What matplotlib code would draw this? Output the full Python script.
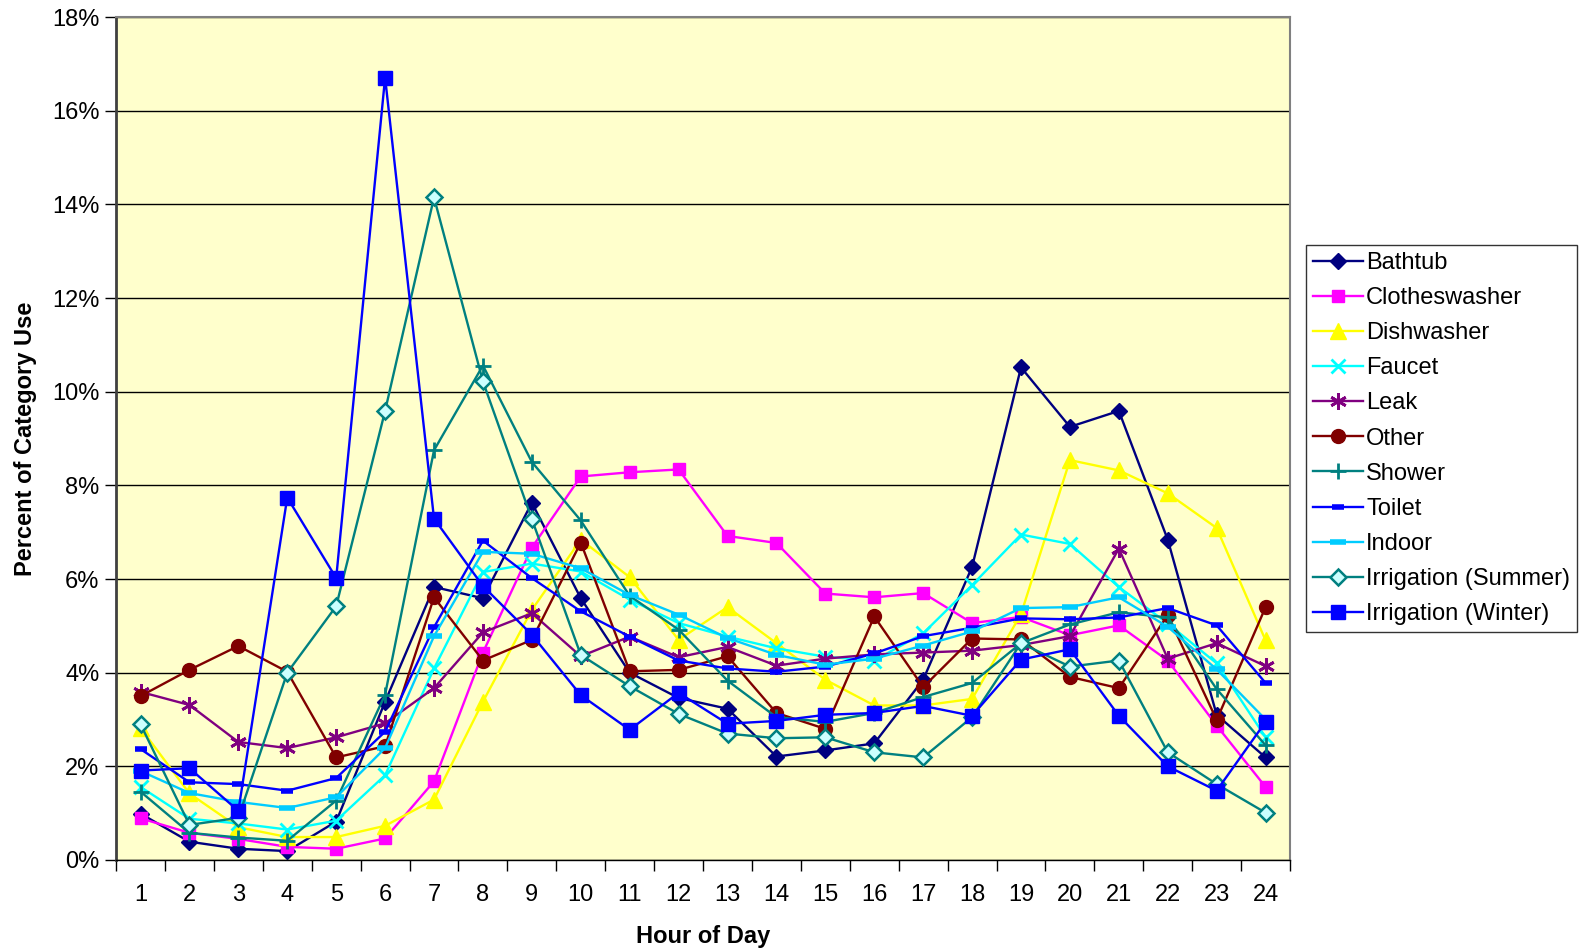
import matplotlib
matplotlib.use('Agg')
import matplotlib.pyplot as plt
from matplotlib.ticker import PercentFormatter, FixedLocator

plt.rcParams['font.family'] = ['Liberation Sans', 'DejaVu Sans']

# hourly share of each end use (percent of category use)
hours = list(range(1, 25))
bathtub = [0.99, 0.39, 0.24, 0.19, 0.82, 3.38, 5.83, 5.59, 7.63, 5.59, 4.0, 3.46,
           3.23, 2.21, 2.34, 2.49, 3.85, 6.26, 10.52, 9.25, 9.59, 6.84, 3.1, 2.19]
clotheswasher = [0.89, 0.58, 0.45, 0.28, 0.24, 0.46, 1.68, 4.43, 6.67, 8.19, 8.28, 8.34,
                 6.92, 6.77, 5.69, 5.61, 5.7, 5.06, 5.19, 4.8, 5.01, 4.26, 2.87, 1.56]
dishwasher = [2.82, 1.42, 0.7, 0.49, 0.49, 0.73, 1.29, 3.38, 5.34, 6.84, 6.04, 4.7,
              5.4, 4.63, 3.85, 3.3, 3.3, 3.44, 5.25, 8.54, 8.32, 7.83, 7.09, 4.69]
faucet = [1.56, 0.88, 0.78, 0.65, 0.84, 1.81, 4.09, 6.15, 6.33, 6.16, 5.56, 5.06,
          4.77, 4.52, 4.34, 4.26, 4.84, 5.87, 6.95, 6.75, 5.83, 5.05, 4.2, 2.62]
leak = [3.59, 3.31, 2.52, 2.39, 2.62, 2.92, 3.67, 4.86, 5.27, 4.35, 4.77, 4.33,
        4.55, 4.15, 4.3, 4.39, 4.43, 4.47, 4.59, 4.78, 6.65, 4.3, 4.63, 4.14]
other = [3.5, 4.06, 4.57, 4.02, 2.19, 2.43, 5.61, 4.26, 4.7, 6.78, 4.03, 4.06,
         4.35, 3.14, 2.8, 5.2, 3.69, 4.73, 4.71, 3.91, 3.67, 5.23, 2.99, 5.4]
shower = [1.46, 0.58, 0.48, 0.41, 1.27, 3.53, 8.75, 10.56, 8.5, 7.25, 5.64, 4.92,
          3.83, 3.05, 2.95, 3.14, 3.48, 3.78, 4.63, 5.03, 5.29, 5.18, 3.65, 2.45]
toilet = [2.37, 1.66, 1.62, 1.48, 1.75, 2.74, 4.97, 6.82, 6.02, 5.31, 4.77, 4.26,
          4.09, 4.02, 4.13, 4.41, 4.78, 4.96, 5.16, 5.14, 5.18, 5.38, 5.01, 3.78]
indoor = [1.9, 1.43, 1.24, 1.11, 1.34, 2.39, 4.78, 6.58, 6.54, 6.23, 5.66, 5.24,
          4.74, 4.38, 4.17, 4.3, 4.58, 4.88, 5.38, 5.4, 5.61, 4.98, 4.07, 3.0]
irr_summer = [2.9, 0.75, 0.9, 4.0, 5.42, 9.59, 14.15, 10.22, 7.28, 4.38, 3.71, 3.12,
              2.7, 2.6, 2.62, 2.3, 2.19, 3.05, 4.63, 4.13, 4.26, 2.3, 1.62, 1.01]
irr_winter = [1.91, 1.96, 1.05, 7.74, 6.02, 16.71, 7.29, 5.85, 4.81, 3.52, 2.78, 3.57,
              2.91, 2.97, 3.1, 3.14, 3.29, 3.08, 4.28, 4.5, 3.08, 2.0, 1.48, 2.95]

fig = plt.figure(figsize=(15.79, 9.51), dpi=100)
ax = fig.add_axes([0.0735, 0.0957, 0.7435, 0.8863])
ax.set_facecolor('#FFFFCC')

lw = 1.7
ax.plot(hours, bathtub, color='#000080', lw=lw, marker='D', ms=8, label='Bathtub')
ax.plot(hours, clotheswasher, color='#FF00FF', lw=lw, marker='s', ms=9, label='Clotheswasher')
ax.plot(hours, dishwasher, color='#FFFF00', lw=lw, marker='^', ms=11, label='Dishwasher')
ax.plot(hours, faucet, color='#00FFFF', lw=lw, marker='x', ms=10, mew=2, label='Faucet')
ax.plot(hours, leak, color='#800080', lw=lw, marker=(6, 2, 0), ms=12, mew=2, label='Leak')
ax.plot(hours, other, color='#800000', lw=lw, marker='o', ms=10, label='Other')
ax.plot(hours, shower, color='#008080', lw=lw, marker='+', ms=12, mew=2, label='Shower')
ax.plot(hours, toilet, color='#0000FF', lw=lw, marker='_', ms=9, mew=4, label='Toilet')
ax.plot(hours, indoor, color='#00CCFF', lw=lw, marker='_', ms=11, mew=4, label='Indoor')
ax.plot(hours, irr_summer, color='#008080', lw=lw, marker='D', ms=8, mfc='#CCFFFF',
        mec='#008080', mew=1.8, label='Irrigation (Summer)')
ax.plot(hours, irr_winter, color='#0000FF', lw=lw, marker='s', ms=10, label='Irrigation (Winter)')

ax.set_xlim(0.5, 24.5)
ax.set_ylim(0, 18)
ax.yaxis.set_major_locator(FixedLocator(range(0, 19, 2)))
ax.yaxis.set_major_formatter(PercentFormatter(decimals=0))
ax.grid(axis='y', color='black', lw=1)
ax.set_axisbelow(True)

# category axis: tick marks between hours, labels centred on hours
ax.set_xticks([h + 0.5 for h in range(0, 25)])
ax.set_xticklabels([])
ax.set_xticks(hours, minor=True)
ax.set_xticklabels([str(h) for h in hours], minor=True)
ax.tick_params(axis='x', which='major', direction='out', length=8, width=1, color='black')
ax.tick_params(axis='x', which='minor', length=0, pad=17, labelsize=17)
ax.tick_params(axis='y', direction='out', length=8, width=1, labelsize=17, pad=4)

for side in ['top', 'right']:
    ax.spines[side].set_color('#808080')
    ax.spines[side].set_linewidth(1.5)
ax.spines['left'].set_color('#404040')
ax.spines['left'].set_linewidth(2)
ax.spines['bottom'].set_color('black')
ax.spines['bottom'].set_linewidth(1)

ax.set_xlabel('Hour of Day', fontsize=17, fontweight='bold', labelpad=14)
ax.set_ylabel('Percent of Category Use', fontsize=17, fontweight='bold', labelpad=11)

leg = fig.legend(loc='upper left', bbox_to_anchor=(1306 / 1579, 1 - 245 / 951),
                 fontsize=17, frameon=True, fancybox=False, handlelength=2.1,
                 labelspacing=0.555, borderpad=0.3, handletextpad=0.15, borderaxespad=0)
leg.get_frame().set_edgecolor('black')
leg.get_frame().set_linewidth(1)

fig.savefig('out.png', dpi=100)
